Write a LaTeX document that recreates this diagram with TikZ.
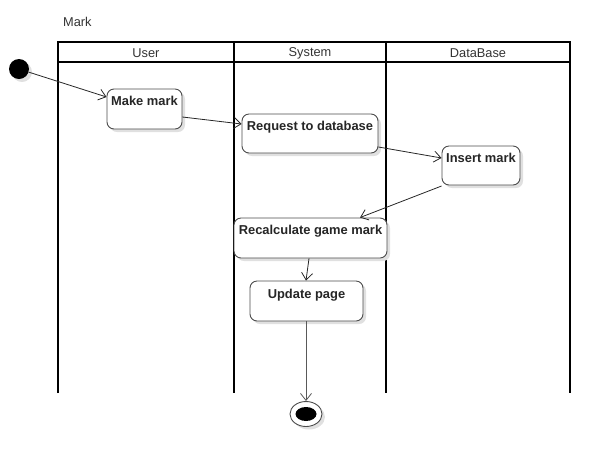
\documentclass[tikz,border=0pt]{standalone}
\usepackage{fontspec}
\setmainfont{Liberation Sans}
\usetikzlibrary{arrows.meta,shapes.geometric,shadows}
\begin{document}
\begin{tikzpicture}[x=1pt,y=-1pt,
  lane/.style={line width=2pt,black},
  act/.style={draw=black!70,line width=0.9pt,rounded corners=7pt,fill=white,
    drop shadow={shadow xshift=3pt,shadow yshift=-3pt,fill=black!12,opacity=1},inner sep=0pt},
  acttext/.style={font=\fontsize{12.9}{14}\selectfont\bfseries,text=black!85},
  flow/.style={draw=black!85,line width=0.8pt,-{Straight Barb[length=7pt,width=11pt]}},
  hdr/.style={font=\fontsize{12.8}{14}\selectfont,text=black!80}]
\useasboundingbox (0,0) rectangle (610,467);
% title
\node[hdr,anchor=west,inner sep=0pt] (title) at (63,22) {Mark};
% swimlanes
\draw[lane] (58,393) -- (58,42) -- (570,42) -- (570,393);
\draw[lane] (58,62) -- (570,62);
\draw[lane] (234,42) -- (234,393);
\draw[lane] (386,42) -- (386,393);
\node[hdr] (luser) at (146,53) {User};
\node[hdr] (lsys) at (310,53) {System};
\node[hdr] (ldb) at (478,53) {DataBase};
% initial
\node[circle,fill=black,minimum size=20pt,inner sep=0pt,
  drop shadow={shadow xshift=3pt,shadow yshift=-3pt,fill=black!12,opacity=1}] (init) at (19,69) {};
% activities
\node[act,minimum width=75pt,minimum height=40pt,
  label={[acttext,anchor=north,yshift=-4pt]north:Make mark}] (make) at (144.5,109) {};
\node[act,minimum width=136pt,minimum height=39pt,
  label={[acttext,anchor=north,yshift=-4pt]north:Request to database}] (req) at (310,133.5) {};
\node[act,minimum width=78pt,minimum height=39pt,
  label={[acttext,anchor=north,yshift=-4pt]north:Insert mark}] (ins) at (481,165.5) {};
\node[act,minimum width=153pt,minimum height=40pt,
  label={[acttext,anchor=north,yshift=-4pt]north:Recalculate game mark}] (recalc) at (310.5,238) {};
\node[act,minimum width=113pt,minimum height=40pt,
  label={[acttext,anchor=north,yshift=-5pt]north:Update page}] (upd) at (306.5,301) {};
% final
\node[ellipse,draw=black!70,line width=0.9pt,fill=white,minimum width=32pt,minimum height=25pt,inner sep=0pt,
  drop shadow={shadow xshift=3pt,shadow yshift=-3pt,fill=black!12,opacity=1}] (final) at (306,414) {};
\node[ellipse,fill=black,minimum width=21pt,minimum height=14pt,inner sep=0pt] (finalin) at (306,414) {};
% flows
\draw[flow] (init) -- (make.west |- 0,97);
\draw[flow] (make.east |- 0,117) -- (req.west |- 0,124);
\draw[flow] (req.east |- 0,147) -- (ins.west |- 0,158);
\draw[flow] (ins.west |- 0,186) -- (recalc.north -| 360,0);
\draw[flow] (recalc.south -| 309,0) -- (upd.north -| 306,0);
\draw[flow,draw=black!65] (upd.south -| 306,0) -- (final.north);
\end{tikzpicture}
\end{document}
